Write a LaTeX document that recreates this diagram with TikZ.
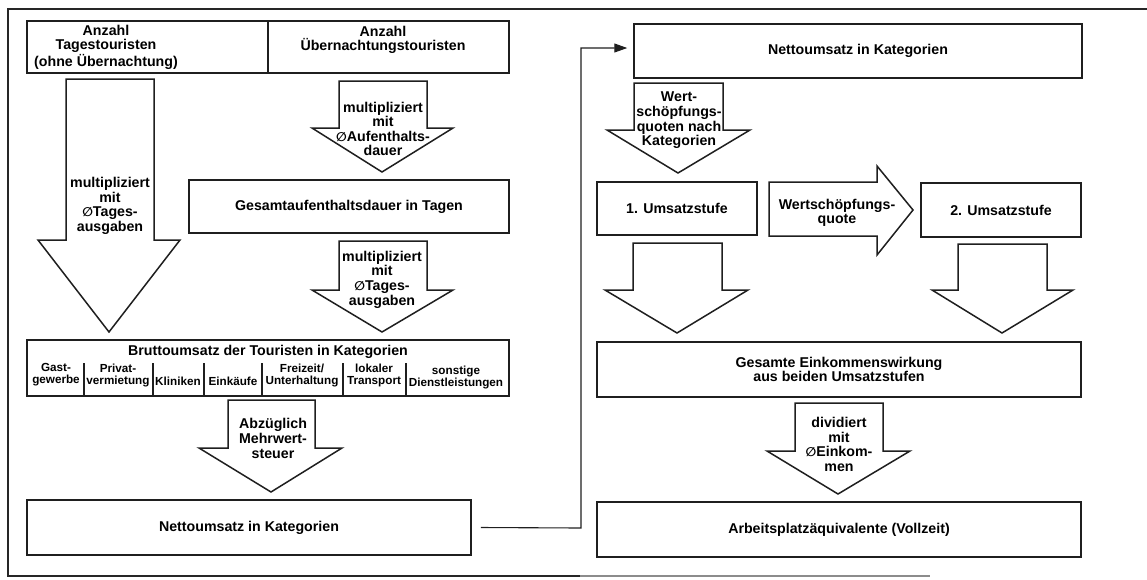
\documentclass[tikz,border=0pt]{standalone}
\usepackage{fontspec}
\setmainfont{Liberation Sans}
\newfontfamily\symf{DejaVu Sans}
\usetikzlibrary{arrows.meta}
\newcommand\avg{{\symf\bfseries\fontsize{12.5}{12.5}\selectfont ∅}}
\newcommand\DArr[8]{\draw[arr] (#1,#3) -- (#2,#3) -- (#2,#4) -- (#6,#4) -- (#7,#8) -- (#5,#4) -- (#1,#4) -- cycle;}
\tikzset{
  box/.style={draw=black!88, line width=1.5pt, fill=white, inner sep=0pt, align=center, font=\mainfs},
  arr/.style={draw=black!88, line width=1.5pt, fill=white, line join=miter},
  txt/.style={inner sep=0pt, align=center, font=\mainfs},
  smalltxt/.style={inner sep=0pt, align=center, font=\smallfs},
  divl/.style={draw=black!88, line width=1.3pt},
  conn/.style={draw=black!88, line width=1.1pt, -{Triangle[length=13pt,width=9pt]}},
  frame/.style={draw=black!85, line width=1.4pt}
}
\newcommand\mainfs{\bfseries\fontsize{14.2}{14.6}\selectfont}
\newcommand\smallfs{\bfseries\fontsize{11.7}{12}\selectfont}
\begin{document}
\begin{tikzpicture}[x=1pt,y=-1pt]
\useasboundingbox (0,0) rectangle (1147,579);
% frame
\draw[frame] (1147,9) -- (8,9) -- (8,576) -- (580,576);
\draw[frame, draw=black!45] (580,576) -- (930,576);

% ---------- left half ----------
\node[box, minimum width=241, minimum height=52] (cA) at (147.5,47) {};
\node[box, minimum width=241, minimum height=52] (cB) at (388.5,47) {};
\node[txt] (tA) at (106,47) {Anzahl\\Tagestouristen\\(ohne Übernachtung)};
\node[txt] (tB) at (383,40) {Anzahl\\Übernachtungstouristen};

\DArr{66}{154}{79}{240}{38}{180}{109}{332}
\node[txt] (a1) at (110,206) {multipliziert\\mit\\\avg Tages-\\ausgaben};

\DArr{339}{427}{81}{128}{312}{453}{382}{172}
\node[txt] (a2) at (383,129) {multipliziert\\mit\\\avg Aufenthalts-\\dauer};

\node[box, minimum width=320, minimum height=53] (gesT) at (349,206.5) {Gesamtaufenthaltsdauer in Tagen};

\DArr{339}{427}{241}{290}{312}{453}{382}{332}
\node[txt] (a3) at (382,279.5) {multipliziert\\mit\\\avg Tages-\\ausgaben};

\node[box, minimum width=482, minimum height=56] (brutto) at (268,368) {};
\node[txt] (bt) at (268,352) {Bruttoumsatz der Touristen in Kategorien};
\foreach \xx in {84,153,204,262,343,406} \draw[divl] (\xx,363) -- (\xx,396);
\node[smalltxt] (s1) at (56,375) {Gast-\\gewerbe};
\node[smalltxt] (s2) at (118,375) {Privat-\\vermietung};
\node[smalltxt] (s3) at (178,381) {Kliniken};
\node[smalltxt] (s4) at (233,381) {Einkäufe};
\node[smalltxt] (s5) at (302,375) {Freizeit/\\Unterhaltung};
\node[smalltxt] (s6) at (374,375) {lokaler\\Transport};
\node[smalltxt] (s7) at (456,377) {sonstige\\Dienstleistungen};

\DArr{228}{315}{400}{448}{199}{342}{271}{492}
\node[txt] (a4) at (273,438.5) {Abzüglich\\Mehrwert-\\steuer};

\node[box, minimum width=444, minimum height=55] (nettoL) at (249,527.5) {Nettoumsatz in Kategorien};

% ---------- right half ----------
\node[box, minimum width=448, minimum height=54] (nettoR) at (858,51) {Nettoumsatz in Kategorien};

\DArr{634}{723}{83}{130}{607}{750}{678}{173}
\node[txt] (a5) at (679,120.5) {Wert-\\schöpfungs-\\quoten nach\\Kategorien};

\node[box, minimum width=160, minimum height=53] (u1) at (677,208.5) {1. Umsatzstufe};

\draw[arr] (769,182) -- (877,182) -- (877,166) -- (913,210) -- (877,255) -- (877,236) -- (769,236) -- cycle;
\node[txt] (ah) at (837,213) {Wertschöpfungs-\\quote};

\node[box, minimum width=160, minimum height=54] (u2) at (1001,210) {2. Umsatzstufe};

\DArr{633}{722}{243}{290}{605}{748}{677}{333}
\DArr{958}{1047}{244}{290}{932}{1073}{1002}{333}

\node[box, minimum width=484, minimum height=55] (gesE) at (839,369.5) {Gesamte Einkommenswirkung\\aus beiden Umsatzstufen};

\DArr{795}{883}{403}{451}{767}{910}{838}{494}
\node[txt] (a8) at (839,444.5) {dividiert\\mit\\\avg Einkom-\\men};

\node[box, minimum width=484, minimum height=55] (arb) at (839,529.5) {Arbeitsplatzäquivalente (Vollzeit)};

% connector
\coordinate (bend) at (581,528);
\draw[conn] ([xshift=9pt]nettoL.east) -- (bend) |- ([xshift=-6pt,yshift=3pt]nettoR.west);
\end{tikzpicture}
\end{document}
